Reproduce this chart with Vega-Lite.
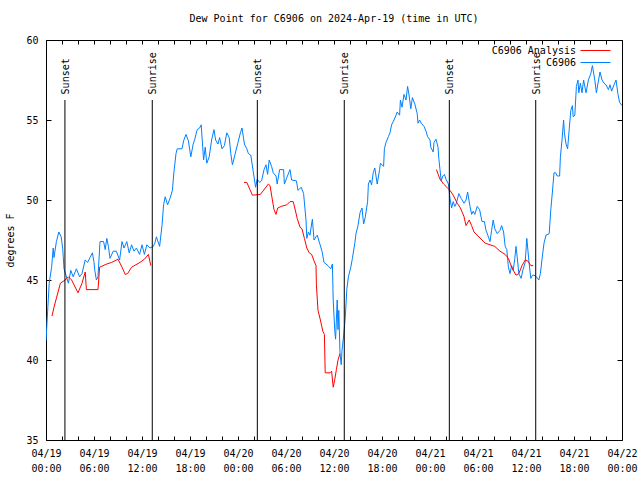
{
  "$schema": "https://vega.github.io/schema/vega-lite/v6.json",
  "width": 576,
  "height": 400,
  "autosize": {"type": "none"},
  "padding": {"left": 46, "top": 40, "right": 18, "bottom": 40},
  "background": "white",
  "config": {
    "view": {"stroke": "black", "strokeWidth": 1},
    "font": "DejaVu Sans Mono"
  },
  "title": {
    "text": "Dew Point for C6906 on 2024-Apr-19 (time in UTC)",
    "font": "DejaVu Sans Mono",
    "fontSize": 10,
    "fontWeight": "normal",
    "color": "black",
    "anchor": "middle",
    "offset": 11
  },
  "resolve": {"axis": {"x": "independent", "y": "independent"}},
  "layer": [
    {
      "data": {"values": [
        {"t":"2024-04-19T00:00Z","v":41.2},{"t":"2024-04-19T00:12Z","v":43.0},{"t":"2024-04-19T00:24Z","v":44.8},{"t":"2024-04-19T00:42Z","v":45.8},{"t":"2024-04-19T00:54Z","v":47.0},{"t":"2024-04-19T01:00Z","v":46.4},{"t":"2024-04-19T01:18Z","v":47.4},{"t":"2024-04-19T01:36Z","v":48.0},{"t":"2024-04-19T01:54Z","v":47.7},{"t":"2024-04-19T02:06Z","v":46.9},{"t":"2024-04-19T02:15Z","v":45.7},{"t":"2024-04-19T02:30Z","v":45.3},{"t":"2024-04-19T02:48Z","v":44.8},{"t":"2024-04-19T03:06Z","v":45.6},{"t":"2024-04-19T03:24Z","v":45.2},{"t":"2024-04-19T03:48Z","v":45.7},{"t":"2024-04-19T04:12Z","v":45.2},{"t":"2024-04-19T04:30Z","v":45.4},{"t":"2024-04-19T04:54Z","v":46.25},{"t":"2024-04-19T05:12Z","v":46.1},{"t":"2024-04-19T05:30Z","v":46.4},{"t":"2024-04-19T05:48Z","v":46.7},{"t":"2024-04-19T06:00Z","v":46.1},{"t":"2024-04-19T06:06Z","v":45.6},{"t":"2024-04-19T06:18Z","v":45.0},{"t":"2024-04-19T06:30Z","v":45.2},{"t":"2024-04-19T06:45Z","v":47.4},{"t":"2024-04-19T07:12Z","v":47.4},{"t":"2024-04-19T07:24Z","v":46.9},{"t":"2024-04-19T07:36Z","v":47.6},{"t":"2024-04-19T07:48Z","v":47.1},{"t":"2024-04-19T08:00Z","v":46.35},{"t":"2024-04-19T08:24Z","v":46.8},{"t":"2024-04-19T08:48Z","v":46.8},{"t":"2024-04-19T09:12Z","v":46.25},{"t":"2024-04-19T09:30Z","v":47.4},{"t":"2024-04-19T09:45Z","v":47.0},{"t":"2024-04-19T10:06Z","v":47.4},{"t":"2024-04-19T10:24Z","v":46.7},{"t":"2024-04-19T10:42Z","v":47.2},{"t":"2024-04-19T11:00Z","v":46.8},{"t":"2024-04-19T11:18Z","v":47.0},{"t":"2024-04-19T11:42Z","v":46.6},{"t":"2024-04-19T12:00Z","v":47.2},{"t":"2024-04-19T12:18Z","v":46.6},{"t":"2024-04-19T12:36Z","v":47.2},{"t":"2024-04-19T13:00Z","v":47.0},{"t":"2024-04-19T13:24Z","v":47.1},{"t":"2024-04-19T13:36Z","v":47.3},{"t":"2024-04-19T13:48Z","v":47.7},{"t":"2024-04-19T14:12Z","v":47.1},{"t":"2024-04-19T14:30Z","v":48.4},{"t":"2024-04-19T14:42Z","v":49.7},{"t":"2024-04-19T14:54Z","v":50.2},{"t":"2024-04-19T15:12Z","v":49.7},{"t":"2024-04-19T15:30Z","v":50.1},{"t":"2024-04-19T15:48Z","v":50.6},{"t":"2024-04-19T16:00Z","v":51.8},{"t":"2024-04-19T16:15Z","v":52.9},{"t":"2024-04-19T16:24Z","v":53.2},{"t":"2024-04-19T17:00Z","v":53.2},{"t":"2024-04-19T17:12Z","v":53.7},{"t":"2024-04-19T17:30Z","v":54.1},{"t":"2024-04-19T17:48Z","v":53.7},{"t":"2024-04-19T18:06Z","v":52.7},{"t":"2024-04-19T18:24Z","v":53.5},{"t":"2024-04-19T18:36Z","v":53.8},{"t":"2024-04-19T18:54Z","v":54.4},{"t":"2024-04-19T19:12Z","v":54.5},{"t":"2024-04-19T19:24Z","v":54.7},{"t":"2024-04-19T19:42Z","v":52.5},{"t":"2024-04-19T19:54Z","v":53.3},{"t":"2024-04-19T20:06Z","v":52.3},{"t":"2024-04-19T20:24Z","v":52.7},{"t":"2024-04-19T20:42Z","v":53.75},{"t":"2024-04-19T21:00Z","v":54.4},{"t":"2024-04-19T21:12Z","v":53.75},{"t":"2024-04-19T21:30Z","v":53.5},{"t":"2024-04-19T21:42Z","v":53.9},{"t":"2024-04-19T22:00Z","v":53.2},{"t":"2024-04-19T22:18Z","v":53.4},{"t":"2024-04-19T22:36Z","v":54.2},{"t":"2024-04-19T22:54Z","v":53.9},{"t":"2024-04-19T23:06Z","v":52.9},{"t":"2024-04-19T23:18Z","v":52.2},{"t":"2024-04-19T23:36Z","v":52.8},
        {"t":"2024-04-20T00:00Z","v":53.6},{"t":"2024-04-20T00:18Z","v":54.2},{"t":"2024-04-20T00:30Z","v":54.5},{"t":"2024-04-20T00:48Z","v":53.5},{"t":"2024-04-20T01:06Z","v":53.2},{"t":"2024-04-20T01:18Z","v":52.9},{"t":"2024-04-20T01:36Z","v":52.8},{"t":"2024-04-20T01:54Z","v":51.8},{"t":"2024-04-20T02:12Z","v":50.8},{"t":"2024-04-20T02:24Z","v":51.3},{"t":"2024-04-20T02:42Z","v":51.1},{"t":"2024-04-20T02:57Z","v":51.2},{"t":"2024-04-20T03:15Z","v":51.9},{"t":"2024-04-20T03:30Z","v":52.2},{"t":"2024-04-20T03:42Z","v":51.6},{"t":"2024-04-20T03:54Z","v":52.5},{"t":"2024-04-20T04:12Z","v":52.1},{"t":"2024-04-20T04:24Z","v":51.7},{"t":"2024-04-20T04:45Z","v":51.5},{"t":"2024-04-20T04:54Z","v":51.0},{"t":"2024-04-20T05:12Z","v":51.9},{"t":"2024-04-20T05:42Z","v":51.9},{"t":"2024-04-20T05:48Z","v":51.0},{"t":"2024-04-20T06:06Z","v":51.4},{"t":"2024-04-20T06:30Z","v":51.9},{"t":"2024-04-20T06:42Z","v":51.25},{"t":"2024-04-20T07:18Z","v":51.2},{"t":"2024-04-20T07:30Z","v":50.6},{"t":"2024-04-20T07:54Z","v":50.8},{"t":"2024-04-20T08:12Z","v":50.4},{"t":"2024-04-20T08:30Z","v":48.75},{"t":"2024-04-20T08:36Z","v":47.6},{"t":"2024-04-20T08:48Z","v":48.0},{"t":"2024-04-20T09:00Z","v":47.8},{"t":"2024-04-20T09:12Z","v":48.5},{"t":"2024-04-20T09:18Z","v":48.8},{"t":"2024-04-20T09:30Z","v":47.5},{"t":"2024-04-20T09:45Z","v":47.7},{"t":"2024-04-20T09:54Z","v":47.8},{"t":"2024-04-20T10:12Z","v":47.3},{"t":"2024-04-20T10:30Z","v":46.8},{"t":"2024-04-20T10:45Z","v":46.1},{"t":"2024-04-20T11:00Z","v":46.0},{"t":"2024-04-20T11:15Z","v":45.9},{"t":"2024-04-20T11:36Z","v":45.7},{"t":"2024-04-20T11:48Z","v":46.0},{"t":"2024-04-20T11:54Z","v":43.75},{"t":"2024-04-20T12:06Z","v":41.8},{"t":"2024-04-20T12:12Z","v":41.3},{"t":"2024-04-20T12:24Z","v":43.75},{"t":"2024-04-20T12:30Z","v":41.9},{"t":"2024-04-20T12:36Z","v":43.1},{"t":"2024-04-20T12:45Z","v":40.4},{"t":"2024-04-20T12:54Z","v":39.7},{"t":"2024-04-20T13:00Z","v":40.6},{"t":"2024-04-20T13:12Z","v":41.5},{"t":"2024-04-20T13:24Z","v":42.6},{"t":"2024-04-20T13:36Z","v":44.4},{"t":"2024-04-20T13:48Z","v":45.2},{"t":"2024-04-20T14:06Z","v":45.8},{"t":"2024-04-20T14:18Z","v":46.35},{"t":"2024-04-20T14:36Z","v":47.3},{"t":"2024-04-20T14:45Z","v":47.9},{"t":"2024-04-20T15:00Z","v":48.4},{"t":"2024-04-20T15:15Z","v":49.2},{"t":"2024-04-20T15:30Z","v":49.5},{"t":"2024-04-20T15:42Z","v":48.5},{"t":"2024-04-20T15:54Z","v":48.9},{"t":"2024-04-20T16:12Z","v":49.9},{"t":"2024-04-20T16:18Z","v":51.0},{"t":"2024-04-20T16:30Z","v":51.25},{"t":"2024-04-20T16:42Z","v":50.95},{"t":"2024-04-20T16:54Z","v":51.7},{"t":"2024-04-20T17:06Z","v":52.0},{"t":"2024-04-20T17:24Z","v":51.0},{"t":"2024-04-20T17:42Z","v":51.9},{"t":"2024-04-20T17:48Z","v":52.3},{"t":"2024-04-20T18:12Z","v":52.1},{"t":"2024-04-20T18:18Z","v":53.2},{"t":"2024-04-20T18:30Z","v":53.6},{"t":"2024-04-20T18:48Z","v":53.96},{"t":"2024-04-20T19:00Z","v":54.2},{"t":"2024-04-20T19:12Z","v":54.7},{"t":"2024-04-20T19:30Z","v":55.0},{"t":"2024-04-20T19:45Z","v":55.3},{"t":"2024-04-20T19:54Z","v":55.5},{"t":"2024-04-20T20:12Z","v":55.3},{"t":"2024-04-20T20:18Z","v":56.25},{"t":"2024-04-20T20:30Z","v":55.8},{"t":"2024-04-20T20:45Z","v":56.6},{"t":"2024-04-20T21:00Z","v":56.25},{"t":"2024-04-20T21:12Z","v":57.1},{"t":"2024-04-20T21:24Z","v":56.5},{"t":"2024-04-20T21:36Z","v":55.7},{"t":"2024-04-20T21:48Z","v":56.4},{"t":"2024-04-20T22:06Z","v":56.0},{"t":"2024-04-20T22:24Z","v":55.4},{"t":"2024-04-20T22:30Z","v":54.8},{"t":"2024-04-20T22:42Z","v":55.0},{"t":"2024-04-20T22:54Z","v":54.8},{"t":"2024-04-20T23:15Z","v":54.6},{"t":"2024-04-20T23:30Z","v":54.3},{"t":"2024-04-20T23:42Z","v":53.96},
        {"t":"2024-04-21T00:00Z","v":53.75},{"t":"2024-04-21T00:06Z","v":53.3},{"t":"2024-04-21T00:24Z","v":53.0},{"t":"2024-04-21T00:30Z","v":53.6},{"t":"2024-04-21T00:45Z","v":53.8},{"t":"2024-04-21T01:00Z","v":53.3},{"t":"2024-04-21T01:06Z","v":52.6},{"t":"2024-04-21T01:15Z","v":51.9},{"t":"2024-04-21T01:24Z","v":51.2},{"t":"2024-04-21T01:36Z","v":51.5},{"t":"2024-04-21T01:48Z","v":51.6},{"t":"2024-04-21T02:00Z","v":51.3},{"t":"2024-04-21T02:18Z","v":51.0},{"t":"2024-04-21T02:30Z","v":50.1},{"t":"2024-04-21T02:42Z","v":49.5},{"t":"2024-04-21T02:54Z","v":49.9},{"t":"2024-04-21T03:06Z","v":49.6},{"t":"2024-04-21T03:18Z","v":49.8},{"t":"2024-04-21T03:36Z","v":50.4},{"t":"2024-04-21T03:54Z","v":50.1},{"t":"2024-04-21T04:15Z","v":49.8},{"t":"2024-04-21T04:30Z","v":50.0},{"t":"2024-04-21T04:42Z","v":50.5},{"t":"2024-04-21T05:00Z","v":49.6},{"t":"2024-04-21T05:12Z","v":49.1},{"t":"2024-04-21T05:24Z","v":49.3},{"t":"2024-04-21T05:36Z","v":49.1},{"t":"2024-04-21T05:54Z","v":49.6},{"t":"2024-04-21T06:12Z","v":49.4},{"t":"2024-04-21T06:30Z","v":48.65},{"t":"2024-04-21T06:48Z","v":48.65},{"t":"2024-04-21T07:00Z","v":48.1},{"t":"2024-04-21T07:18Z","v":47.7},{"t":"2024-04-21T07:30Z","v":47.4},{"t":"2024-04-21T07:42Z","v":48.1},{"t":"2024-04-21T07:54Z","v":48.75},{"t":"2024-04-21T08:06Z","v":48.2},{"t":"2024-04-21T08:24Z","v":47.9},{"t":"2024-04-21T08:45Z","v":48.1},{"t":"2024-04-21T08:57Z","v":48.4},{"t":"2024-04-21T09:12Z","v":48.0},{"t":"2024-04-21T09:24Z","v":47.1},{"t":"2024-04-21T09:36Z","v":46.9},{"t":"2024-04-21T09:48Z","v":45.8},{"t":"2024-04-21T10:00Z","v":45.4},{"t":"2024-04-21T10:12Z","v":45.9},{"t":"2024-04-21T10:24Z","v":45.6},{"t":"2024-04-21T10:36Z","v":46.35},{"t":"2024-04-21T10:45Z","v":47.1},{"t":"2024-04-21T10:54Z","v":46.45},{"t":"2024-04-21T11:06Z","v":45.4},{"t":"2024-04-21T11:24Z","v":45.1},{"t":"2024-04-21T11:36Z","v":45.6},{"t":"2024-04-21T11:54Z","v":46.1},{"t":"2024-04-21T12:06Z","v":47.6},{"t":"2024-04-21T12:24Z","v":46.0},{"t":"2024-04-21T12:36Z","v":45.1},{"t":"2024-04-21T12:48Z","v":45.3},{"t":"2024-04-21T13:00Z","v":45.3},{"t":"2024-04-21T13:18Z","v":45.2},{"t":"2024-04-21T13:36Z","v":45.0},{"t":"2024-04-21T13:48Z","v":45.4},{"t":"2024-04-21T14:00Z","v":46.3},{"t":"2024-04-21T14:15Z","v":47.3},{"t":"2024-04-21T14:30Z","v":47.8},{"t":"2024-04-21T14:54Z","v":47.9},{"t":"2024-04-21T15:06Z","v":49.4},{"t":"2024-04-21T15:18Z","v":50.5},{"t":"2024-04-21T15:30Z","v":51.7},{"t":"2024-04-21T15:42Z","v":51.7},{"t":"2024-04-21T15:54Z","v":51.5},{"t":"2024-04-21T16:12Z","v":51.5},{"t":"2024-04-21T16:18Z","v":52.7},{"t":"2024-04-21T16:30Z","v":53.75},{"t":"2024-04-21T16:42Z","v":55.0},{"t":"2024-04-21T16:48Z","v":54.2},{"t":"2024-04-21T17:00Z","v":53.5},{"t":"2024-04-21T17:12Z","v":53.2},{"t":"2024-04-21T17:24Z","v":54.4},{"t":"2024-04-21T17:36Z","v":55.6},{"t":"2024-04-21T17:48Z","v":55.9},{"t":"2024-04-21T17:54Z","v":55.2},{"t":"2024-04-21T18:06Z","v":55.3},{"t":"2024-04-21T18:18Z","v":57.1},{"t":"2024-04-21T18:30Z","v":57.5},{"t":"2024-04-21T18:36Z","v":56.7},{"t":"2024-04-21T18:48Z","v":57.3},{"t":"2024-04-21T19:00Z","v":56.7},{"t":"2024-04-21T19:12Z","v":57.5},{"t":"2024-04-21T19:30Z","v":56.7},{"t":"2024-04-21T19:48Z","v":57.5},{"t":"2024-04-21T20:06Z","v":57.9},{"t":"2024-04-21T20:18Z","v":58.4},{"t":"2024-04-21T20:36Z","v":57.5},{"t":"2024-04-21T20:48Z","v":56.7},{"t":"2024-04-21T21:00Z","v":57.3},{"t":"2024-04-21T21:15Z","v":58.0},{"t":"2024-04-21T21:30Z","v":57.5},{"t":"2024-04-21T21:45Z","v":57.3},{"t":"2024-04-21T22:00Z","v":57.2},{"t":"2024-04-21T22:18Z","v":56.9},{"t":"2024-04-21T22:30Z","v":57.2},{"t":"2024-04-21T22:42Z","v":56.8},{"t":"2024-04-21T23:00Z","v":57.2},{"t":"2024-04-21T23:15Z","v":57.5},{"t":"2024-04-21T23:30Z","v":56.6},{"t":"2024-04-21T23:42Z","v":56.1},{"t":"2024-04-22T00:00Z","v":55.9}
      ]},
      "mark": {"type": "line", "strokeWidth": 1, "clip": true},
      "encoding": {
        "x": {
          "field": "t", "type": "temporal",
          "scale": {"type": "utc", "nice": false, "domain": [{"year": 2024, "month": 4, "date": 19, "utc": true}, {"year": 2024, "month": 4, "date": 22, "utc": true}]},
          "axis": {
            "orient": "bottom", "title": null, "domain": false, "grid": false,
            "tickCount": {"interval": "hours", "step": 2},
            "labelExpr": "utchours(datum.value) % 6 == 0 ? [utcFormat(datum.value, '%m/%d'), utcFormat(datum.value, '%H:%M')] : ''",
            "tickSize": -4, "tickColor": "black", "tickWidth": 1,
            "labelPadding": 12, "labelFont": "DejaVu Sans Mono", "labelFontSize": 10, "labelColor": "black",
            "labelLineHeight": 15, "labelOverlap": false, "labelFlush": false, "labelBaseline": "top"
          }
        },
        "y": {
          "field": "v", "type": "quantitative",
          "scale": {"domain": [35, 60], "nice": false, "zero": false},
          "axis": {
            "orient": "left", "title": "degrees F", "domain": false, "grid": false,
            "values": [35, 40, 45, 50, 55, 60],
            "tickSize": -5, "tickColor": "black", "tickWidth": 1,
            "labelPadding": 13, "labelFont": "DejaVu Sans Mono", "labelFontSize": 10, "labelColor": "black",
            "titleFont": "DejaVu Sans Mono", "titleFontSize": 10, "titleFontWeight": "normal", "titleColor": "black", "titlePadding": 10
          }
        },
        "color": {
          "datum": "C6906",
          "scale": {"domain": ["C6906 Analysis", "C6906"], "range": ["#ff0000", "#0080ff"]},
          "legend": {
            "orient": "none", "legendX": 543, "legendY": 4, "title": null, "direction": "vertical",
            "symbolType": "M-2.5,0H2.5", "symbolSize": 144, "symbolStrokeWidth": 1, "symbolFillColor": "transparent",
            "labelAlign": "right", "labelOffset": -26, "labelFont": "DejaVu Sans Mono", "labelFontSize": 10, "labelColor": "black",
            "rowPadding": 0, "padding": 0, "labelLimit": 300
          }
        }
      }
    },
    {
      "data": {"values": [
        {"t":"2024-04-19T00:45Z","v":42.75,"seg":1},{"t":"2024-04-19T01:00Z","v":43.3,"seg":1},{"t":"2024-04-19T01:48Z","v":44.8,"seg":1},{"t":"2024-04-19T02:24Z","v":45.0,"seg":1},{"t":"2024-04-19T02:48Z","v":45.2,"seg":1},{"t":"2024-04-19T03:12Z","v":45.0,"seg":1},{"t":"2024-04-19T04:00Z","v":44.2,"seg":1},{"t":"2024-04-19T04:30Z","v":44.8,"seg":1},{"t":"2024-04-19T04:54Z","v":45.5,"seg":1},{"t":"2024-04-19T05:03Z","v":44.4,"seg":1},{"t":"2024-04-19T06:30Z","v":44.4,"seg":1},{"t":"2024-04-19T06:42Z","v":45.8,"seg":1},{"t":"2024-04-19T07:36Z","v":46.0,"seg":1},{"t":"2024-04-19T08:12Z","v":46.1,"seg":1},{"t":"2024-04-19T09:00Z","v":46.3,"seg":1},{"t":"2024-04-19T09:30Z","v":45.8,"seg":1},{"t":"2024-04-19T09:54Z","v":45.35,"seg":1},{"t":"2024-04-19T10:12Z","v":45.4,"seg":1},{"t":"2024-04-19T10:42Z","v":45.8,"seg":1},{"t":"2024-04-19T11:45Z","v":46.1,"seg":1},{"t":"2024-04-19T12:18Z","v":46.3,"seg":1},{"t":"2024-04-19T12:48Z","v":46.6,"seg":1},{"t":"2024-04-19T13:06Z","v":45.9,"seg":1},
        {"t":"2024-04-20T00:45Z","v":51.1,"seg":2},{"t":"2024-04-20T01:06Z","v":51.1,"seg":2},{"t":"2024-04-20T01:48Z","v":50.3,"seg":2},{"t":"2024-04-20T02:48Z","v":50.35,"seg":2},{"t":"2024-04-20T03:48Z","v":51.0,"seg":2},{"t":"2024-04-20T04:00Z","v":50.9,"seg":2},{"t":"2024-04-20T04:18Z","v":50.0,"seg":2},{"t":"2024-04-20T04:30Z","v":49.4,"seg":2},{"t":"2024-04-20T04:45Z","v":49.1,"seg":2},{"t":"2024-04-20T04:58Z","v":49.5,"seg":2},{"t":"2024-04-20T05:24Z","v":49.6,"seg":2},{"t":"2024-04-20T06:06Z","v":49.7,"seg":2},{"t":"2024-04-20T06:30Z","v":49.9,"seg":2},{"t":"2024-04-20T06:54Z","v":49.9,"seg":2},{"t":"2024-04-20T07:06Z","v":49.5,"seg":2},{"t":"2024-04-20T07:24Z","v":48.85,"seg":2},{"t":"2024-04-20T07:45Z","v":48.3,"seg":2},{"t":"2024-04-20T08:00Z","v":48.2,"seg":2},{"t":"2024-04-20T08:18Z","v":47.6,"seg":2},{"t":"2024-04-20T08:36Z","v":47.0,"seg":2},{"t":"2024-04-20T08:54Z","v":46.7,"seg":2},{"t":"2024-04-20T09:12Z","v":46.6,"seg":2},{"t":"2024-04-20T09:30Z","v":46.2,"seg":2},{"t":"2024-04-20T09:45Z","v":45.9,"seg":2},{"t":"2024-04-20T09:48Z","v":44.7,"seg":2},{"t":"2024-04-20T10:00Z","v":43.1,"seg":2},{"t":"2024-04-20T10:18Z","v":42.5,"seg":2},{"t":"2024-04-20T10:36Z","v":41.8,"seg":2},{"t":"2024-04-20T10:48Z","v":41.6,"seg":2},{"t":"2024-04-20T10:54Z","v":39.2,"seg":2},{"t":"2024-04-20T11:30Z","v":39.2,"seg":2},{"t":"2024-04-20T11:42Z","v":39.3,"seg":2},{"t":"2024-04-20T11:54Z","v":38.3,"seg":2},{"t":"2024-04-20T12:06Z","v":38.8,"seg":2},{"t":"2024-04-20T12:18Z","v":39.4,"seg":2},{"t":"2024-04-20T12:30Z","v":40.0,"seg":2},{"t":"2024-04-20T12:45Z","v":40.4,"seg":2},
        {"t":"2024-04-21T00:48Z","v":51.9,"seg":3},{"t":"2024-04-21T01:15Z","v":51.3,"seg":3},{"t":"2024-04-21T01:42Z","v":51.0,"seg":3},{"t":"2024-04-21T02:06Z","v":50.8,"seg":3},{"t":"2024-04-21T02:30Z","v":50.6,"seg":3},{"t":"2024-04-21T02:54Z","v":50.3,"seg":3},{"t":"2024-04-21T03:24Z","v":49.8,"seg":3},{"t":"2024-04-21T03:48Z","v":49.5,"seg":3},{"t":"2024-04-21T04:15Z","v":48.96,"seg":3},{"t":"2024-04-21T04:30Z","v":48.4,"seg":3},{"t":"2024-04-21T04:54Z","v":48.75,"seg":3},{"t":"2024-04-21T05:12Z","v":48.4,"seg":3},{"t":"2024-04-21T05:30Z","v":48.0,"seg":3},{"t":"2024-04-21T06:00Z","v":47.75,"seg":3},{"t":"2024-04-21T06:30Z","v":47.5,"seg":3},{"t":"2024-04-21T06:54Z","v":47.3,"seg":3},{"t":"2024-04-21T07:30Z","v":47.2,"seg":3},{"t":"2024-04-21T08:06Z","v":47.1,"seg":3},{"t":"2024-04-21T08:45Z","v":46.8,"seg":3},{"t":"2024-04-21T09:24Z","v":46.6,"seg":3},{"t":"2024-04-21T09:48Z","v":46.35,"seg":3},{"t":"2024-04-21T10:12Z","v":45.8,"seg":3},{"t":"2024-04-21T10:45Z","v":45.3,"seg":3},{"t":"2024-04-21T11:06Z","v":45.4,"seg":3},{"t":"2024-04-21T11:30Z","v":45.9,"seg":3},{"t":"2024-04-21T11:54Z","v":46.25,"seg":3},{"t":"2024-04-21T12:12Z","v":46.2,"seg":3},{"t":"2024-04-21T12:36Z","v":45.9,"seg":3},{"t":"2024-04-21T12:54Z","v":45.9,"seg":3}
      ]},
      "mark": {"type": "line", "strokeWidth": 1, "clip": true},
      "encoding": {
        "x": {
          "field": "t", "type": "temporal",
          "axis": {
            "orient": "top", "title": null, "domain": false, "grid": false, "labels": false,
            "tickCount": {"interval": "hours", "step": 2},
            "tickSize": -4, "tickColor": "black", "tickWidth": 1
          }
        },
        "y": {
          "field": "v", "type": "quantitative",
          "axis": {
            "orient": "right", "title": null, "domain": false, "grid": false, "labels": false,
            "values": [35, 40, 45, 50, 55, 60],
            "tickSize": -5, "tickColor": "black", "tickWidth": 1
          }
        },
        "detail": {"field": "seg", "type": "nominal"},
        "color": {"datum": "C6906 Analysis"}
      }
    },
    {
      "data": {"name": "sun", "values": [
        {"t": "2024-04-19T02:22Z", "event": "Sunset"},
        {"t": "2024-04-19T13:17Z", "event": "Sunrise"},
        {"t": "2024-04-20T02:25Z", "event": "Sunset"},
        {"t": "2024-04-20T13:17Z", "event": "Sunrise"},
        {"t": "2024-04-21T02:25Z", "event": "Sunset"},
        {"t": "2024-04-21T13:13Z", "event": "Sunrise"}
      ]},
      "layer": [
        {
          "mark": {"type": "rule", "color": "black", "strokeWidth": 1},
          "encoding": {
            "x": {"field": "t", "type": "temporal", "axis": null},
            "y": {"datum": 56.25, "axis": null},
            "y2": {"datum": 35}
          }
        },
        {
          "mark": {"type": "text", "angle": 270, "align": "left", "baseline": "middle", "font": "DejaVu Sans Mono", "fontSize": 10, "color": "black", "dy": 1},
          "encoding": {
            "x": {"field": "t", "type": "temporal", "axis": null},
            "y": {"datum": 56.6, "axis": null},
            "text": {"field": "event"}
          }
        }
      ]
    }
  ]
}
